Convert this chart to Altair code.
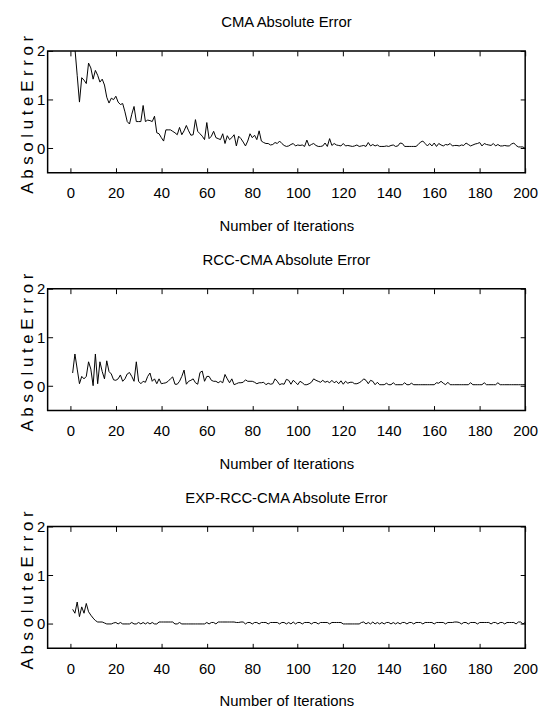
import altair as alt
import pandas as pd

iterations = list(range(1, 201))

cma = [
    3.0, 2.05, 1.5, 0.95, 1.45, 1.4, 1.33, 1.75, 1.65, 1.42,
    1.6, 1.5, 1.36, 1.42, 1.3, 1.05, 0.93, 1.03, 1.0, 1.07,
    0.95, 0.9, 0.92, 0.75, 0.55, 0.5, 0.7, 0.86, 0.55, 0.55,
    0.55, 0.88, 0.55, 0.58, 0.57, 0.55, 0.66, 0.32, 0.3, 0.22,
    0.15, 0.38, 0.38, 0.38, 0.35, 0.32, 0.28, 0.43, 0.28, 0.36,
    0.47, 0.36, 0.27, 0.28, 0.59, 0.35, 0.3, 0.25, 0.18, 0.53,
    0.2, 0.25, 0.35, 0.22, 0.2, 0.18, 0.3, 0.1, 0.26, 0.18,
    0.22, 0.28, 0.05, 0.25, 0.2, 0.13, 0.05, 0.15, 0.3, 0.22,
    0.27, 0.18, 0.36, 0.15, 0.12, 0.1, 0.1, 0.07, 0.08, 0.12,
    0.1, 0.15, 0.1, 0.06, 0.04, 0.05, 0.08, 0.1, 0.05, 0.07,
    0.06, 0.07, 0.04, 0.17, 0.05, 0.08, 0.1, 0.06, 0.04, 0.04,
    0.05, 0.11, 0.04, 0.2, 0.06, 0.1, 0.07, 0.06, 0.05, 0.1,
    0.05, 0.06, 0.05, 0.04, 0.05, 0.07, 0.04, 0.05, 0.06, 0.04,
    0.12, 0.05, 0.08, 0.05, 0.07, 0.04, 0.04, 0.04, 0.05, 0.04,
    0.06, 0.07, 0.04, 0.05, 0.11, 0.1, 0.04, 0.04, 0.04, 0.04,
    0.04, 0.04, 0.08, 0.13, 0.15, 0.1, 0.05, 0.1, 0.05, 0.11,
    0.04, 0.1, 0.07, 0.05, 0.08, 0.07, 0.1, 0.05, 0.06, 0.06,
    0.05, 0.07, 0.06, 0.11, 0.08, 0.05, 0.07, 0.09, 0.1, 0.12,
    0.05, 0.1, 0.08, 0.07, 0.06, 0.1, 0.05, 0.08, 0.05, 0.05,
    0.06, 0.05, 0.05, 0.09, 0.11, 0.06, 0.03, 0.03, 0.03, 0.0,
]

rcc_cma = [
    0.27, 0.66, 0.35, 0.05, 0.2, 0.15, 0.2, 0.5, 0.35, 0.01,
    0.66, 0.05, 0.5, 0.3, 0.15, 0.52, 0.3, 0.25, 0.13, 0.12,
    0.15, 0.23, 0.1, 0.15, 0.25, 0.28, 0.2, 0.1, 0.5, 0.1,
    0.05, 0.1, 0.08, 0.2, 0.27, 0.1, 0.15, 0.05, 0.15, 0.05,
    0.06, 0.07, 0.1, 0.15, 0.19, 0.04, 0.04, 0.1, 0.2, 0.33,
    0.04, 0.1, 0.12, 0.15, 0.07, 0.04, 0.28, 0.31, 0.1, 0.2,
    0.2, 0.12, 0.1, 0.1, 0.07, 0.1, 0.07, 0.24, 0.15, 0.07,
    0.15, 0.03, 0.05, 0.07, 0.07, 0.08, 0.13, 0.1, 0.1, 0.1,
    0.08, 0.05, 0.07, 0.07, 0.08, 0.03, 0.06, 0.04, 0.05, 0.15,
    0.1, 0.03, 0.05, 0.04, 0.14, 0.12, 0.04, 0.12, 0.08, 0.03,
    0.1, 0.07, 0.03, 0.03, 0.05, 0.08, 0.15, 0.12, 0.1, 0.08,
    0.12, 0.08, 0.1, 0.07, 0.12, 0.07, 0.1, 0.05, 0.11, 0.04,
    0.1, 0.06, 0.08, 0.08, 0.05, 0.05, 0.07, 0.1, 0.15, 0.12,
    0.05, 0.12, 0.1, 0.03, 0.08, 0.03, 0.03, 0.03, 0.06, 0.03,
    0.03, 0.07, 0.03, 0.03, 0.03, 0.03, 0.07, 0.03, 0.03, 0.06,
    0.03, 0.03, 0.03, 0.03, 0.03, 0.03, 0.03, 0.03, 0.03, 0.03,
    0.07, 0.06, 0.1, 0.06, 0.03, 0.08, 0.03, 0.03, 0.03, 0.03,
    0.03, 0.03, 0.03, 0.03, 0.03, 0.07, 0.03, 0.03, 0.03, 0.03,
    0.03, 0.07, 0.03, 0.03, 0.03, 0.03, 0.03, 0.07, 0.03, 0.03,
    0.03, 0.03, 0.03, 0.03, 0.03, 0.03, 0.03, 0.03, 0.03, 0.03,
]

exp_rcc_cma = [
    0.3, 0.22, 0.45, 0.15, 0.35, 0.22, 0.42, 0.25, 0.18, 0.12,
    0.07, 0.04, 0.04, 0.04, 0.02, 0.0, 0.0, 0.0, 0.02, 0.03,
    0.0, 0.03, 0.0, 0.0, 0.0, 0.0, 0.03, 0.0, 0.0, 0.03,
    0.0, 0.03, 0.0, 0.03, 0.0, 0.03, 0.0, 0.0, 0.04, 0.04,
    0.04, 0.04, 0.04, 0.04, 0.04, 0.0, 0.0, 0.03, 0.0, 0.0,
    0.0, 0.0, 0.0, 0.0, 0.0, 0.0, 0.0, 0.0, 0.0, 0.03,
    0.0, 0.03, 0.03, 0.0, 0.04, 0.04, 0.04, 0.04, 0.04, 0.04,
    0.04, 0.04, 0.03, 0.03, 0.04, 0.04, 0.0, 0.03, 0.03, 0.0,
    0.03, 0.03, 0.0, 0.03, 0.03, 0.03, 0.0, 0.03, 0.03, 0.03,
    0.03, 0.0, 0.03, 0.03, 0.0, 0.03, 0.0, 0.04, 0.0, 0.03,
    0.03, 0.0, 0.03, 0.03, 0.03, 0.0, 0.03, 0.03, 0.0, 0.03,
    0.03, 0.03, 0.03, 0.0, 0.03, 0.03, 0.03, 0.03, 0.03, 0.0,
    0.0, 0.0, 0.0, 0.0, 0.0, 0.0, 0.0, 0.03, 0.04, 0.0,
    0.03, 0.0, 0.04, 0.0, 0.03, 0.0, 0.03, 0.0, 0.03, 0.03,
    0.0, 0.03, 0.0, 0.03, 0.0, 0.03, 0.03, 0.0, 0.03, 0.03,
    0.0, 0.03, 0.03, 0.03, 0.0, 0.03, 0.03, 0.03, 0.03, 0.0,
    0.03, 0.03, 0.03, 0.03, 0.0, 0.03, 0.03, 0.03, 0.04, 0.04,
    0.03, 0.0, 0.03, 0.03, 0.0, 0.03, 0.03, 0.03, 0.0, 0.03,
    0.03, 0.03, 0.03, 0.03, 0.0, 0.03, 0.03, 0.0, 0.03, 0.03,
    0.0, 0.03, 0.03, 0.03, 0.03, 0.0, 0.04, 0.04, 0.0, 0.03,
]

titles = ["CMA Absolute Error", "RCC-CMA Absolute Error", "EXP-RCC-CMA Absolute Error"]
x_ticks = [0, 20, 40, 60, 80, 100, 120, 140, 160, 180, 200]
y_ticks = [0, 1, 2]
x_domain = [-10, 200]
y_domain = [-0.5, 2]

FONT = "Liberation Sans, Arial, sans-serif"
W, H = 482, 123


def panel(values, title):
    df = pd.DataFrame({"Iteration": iterations, "Error": values})
    xs = alt.Scale(domain=x_domain, nice=False, zero=False)
    ys = alt.Scale(domain=y_domain, nice=False, zero=False)
    main = alt.Chart(df).mark_line(color="black", strokeWidth=1, clip=True).encode(
        x=alt.X("Iteration:Q", scale=xs,
                axis=alt.Axis(orient="bottom", values=x_ticks, offset=-5, tickSize=5,
                              domain=False, grid=False, labelPadding=13, labelFlush=False,
                              labelFont=FONT, labelFontSize=15, labelColor="black",
                              tickColor="black",
                              title="Number of Iterations", titlePadding=18,
                              titleFont=FONT, titleFontSize=15, titleFontWeight="normal",
                              titleColor="black")),
        y=alt.Y("Error:Q", scale=ys,
                axis=alt.Axis(orient="left", values=y_ticks, offset=-5, tickSize=5,
                              domain=False, grid=False, labelPadding=3,
                              labelFont=FONT, labelFontSize=15, labelColor="black",
                              tickColor="black",
                              title="A b s o l u t e  E r r o r",
                              titleFont=FONT, titleFontSize=17, titleFontWeight="normal",
                              titleColor="black",
                              titleX=-20, titleY=64,
                              titleBaseline="alphabetic", titleAngle=270)),
    )
    ghost = alt.Chart(df).mark_line(strokeOpacity=0, clip=True).encode(
        x=alt.X("Iteration:Q", scale=xs,
                axis=alt.Axis(orient="top", values=x_ticks, offset=-5, tickSize=5,
                              domain=False, grid=False, labels=False, title="",
                              tickColor="black")),
        y=alt.Y("Error:Q", scale=ys,
                axis=alt.Axis(orient="right", values=y_ticks, offset=-5, tickSize=5,
                              domain=False, grid=False, labels=False, title="",
                              tickColor="black")),
    )
    return alt.layer(main, ghost).resolve_axis(x="independent", y="independent").properties(
        width=W, height=H,
        title=alt.TitleParams(title, font=FONT, fontSize=15, fontWeight="normal",
                              color="black", baseline="alphabetic", offset=-10),
    )


chart = alt.vconcat(
    panel(cma, titles[0]),
    panel(rcc_cma, titles[1]),
    panel(exp_rcc_cma, titles[2]),
    spacing=18,
).properties(
    padding={"left": 10, "top": 3, "right": 5, "bottom": 2},
    background="white",
).configure_view(
    stroke="black", strokeWidth=1.5,
)

chart.save("out.html", embed_options={"renderer": "svg", "actions": False})
